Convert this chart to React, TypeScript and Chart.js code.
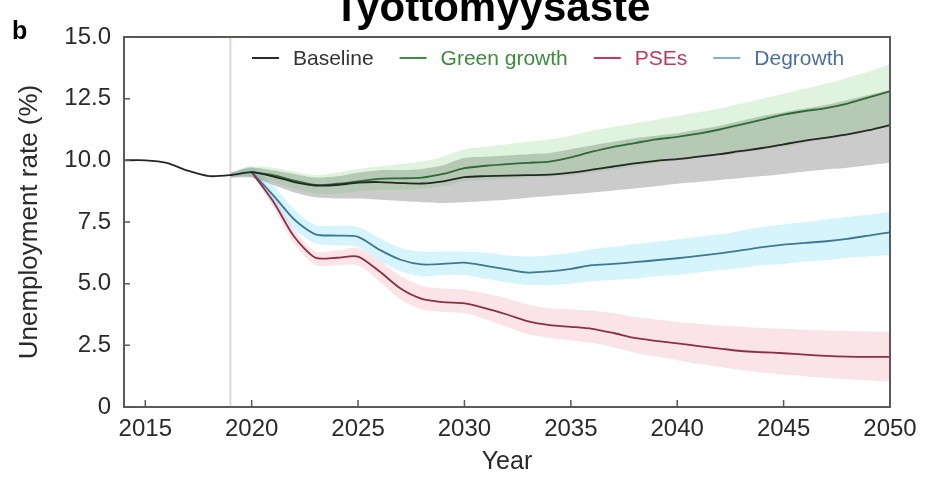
import React, { useEffect, useRef } from "react";
import { Chart, registerables } from "chart.js";

Chart.register(...registerables);

// ---------- data ----------
const years = [
  2014, 2015, 2016, 2017, 2018, 2019, 2020, 2021, 2022, 2023, 2024, 2025, 2026,
  2027, 2028, 2029, 2030, 2031, 2032, 2033, 2034, 2035, 2036, 2037, 2038, 2039,
  2040, 2041, 2042, 2043, 2044, 2045, 2046, 2047, 2048, 2049, 2050,
];
const xTicks = [2015, 2020, 2025, 2030, 2035, 2040, 2045, 2050];
const yTicks = [0, 2.5, 5, 7.5, 10, 12.5, 15];
const markerYear = 2019;

const titleText = "Työttömyysaste";
const panelLabel = "b";
const xTitle = "Year";
const yTitle = "Unemployment rate (%)";
const seriesNames = ["Baseline", "Green growth", "PSEs", "Degrowth"];

const baseline = [
  10.0, 10.0, 9.9, 9.58, 9.36, 9.4, 9.52,
  9.35, 9.12, 8.98, 9.0, 9.1, 9.12, 9.08, 9.06, 9.15, 9.32,
  9.36, 9.38, 9.4, 9.42, 9.5, 9.62, 9.75, 9.88, 9.98, 10.05,
  10.15, 10.25, 10.38, 10.5, 10.65, 10.8, 10.92, 11.05, 11.22, 11.43,
];
const greenGrowth = [
  null, null, null, null, null, null,
  9.52, 9.4, 9.18, 9.0, 9.05, 9.15, 9.25, 9.27, 9.3, 9.45, 9.68,
  9.78, 9.85, 9.9, 9.95, 10.12, 10.35, 10.55, 10.7, 10.85, 10.95,
  11.08, 11.25, 11.45, 11.65, 11.85, 12.0, 12.12, 12.3, 12.55, 12.8,
];
const pses = [
  null, null, null, null, null, null,
  9.52, 8.35, 6.9, 6.05, 6.05, 6.1, 5.5, 4.8, 4.38, 4.25, 4.2,
  4.0, 3.75, 3.47, 3.32, 3.25, 3.17, 3.0, 2.8, 2.68, 2.58,
  2.47, 2.37, 2.27, 2.22, 2.18, 2.12, 2.07, 2.04, 2.03, 2.03,
];
const degrowth = [
  null, null, null, null, null, null,
  9.52, 8.6, 7.6, 7.0, 6.95, 6.9, 6.38, 5.97, 5.78, 5.8, 5.85,
  5.72, 5.58, 5.45, 5.5, 5.6, 5.75, 5.8, 5.87, 5.95, 6.03,
  6.13, 6.23, 6.35, 6.48, 6.58, 6.65, 6.72, 6.82, 6.95, 7.08,
];

// uncertainty ranges (2019 onwards)
const baselineUpper = [
  null, null, null, null, null,
  9.5, 9.7, 9.6, 9.45, 9.3, 9.35, 9.5, 9.6, 9.6, 9.65, 9.8, 10.1,
  10.15, 10.2, 10.25, 10.3, 10.45, 10.6, 10.75, 10.9, 11.0, 11.1,
  11.25, 11.4, 11.6, 11.8, 11.95, 12.1, 12.25, 12.45, 12.65, 12.85,
];
const baselineLower = [
  null, null, null, null, null,
  9.3, 9.3, 9.0, 8.7, 8.5, 8.45, 8.45, 8.4, 8.35, 8.3, 8.27, 8.3,
  8.35, 8.4, 8.48, 8.55, 8.62, 8.7, 8.78, 8.86, 8.95, 9.05,
  9.12, 9.2, 9.28, 9.36, 9.45, 9.55, 9.63, 9.7, 9.8, 9.9,
];
const greenUpper = [
  null, null, null, null, null,
  9.45, 9.75, 9.7, 9.55, 9.4, 9.5, 9.65, 9.75, 9.85, 9.95, 10.15, 10.45,
  10.55, 10.65, 10.75, 10.85, 11.0, 11.2, 11.35, 11.5, 11.65, 11.8,
  11.95, 12.1, 12.3, 12.5, 12.7, 12.9, 13.1, 13.35, 13.6, 13.9,
];
const greenLower = [
  null, null, null, null, null,
  9.35, 9.3, 9.1, 8.85, 8.65, 8.65, 8.75, 8.8, 8.8, 8.85, 8.95, 9.15,
  9.2, 9.25, 9.3, 9.35, 9.4, 9.5, 9.62, 9.75, 9.88, 10.0,
  10.1, 10.2, 10.3, 10.42, 10.55, 10.7, 10.85, 11.0, 11.2, 11.35,
];
const degrowthUpper = [
  null, null, null, null, null,
  9.5, 9.75, 9.0, 8.0, 7.38, 7.35, 7.3, 6.85, 6.45, 6.3, 6.3, 6.3,
  6.25, 6.15, 6.1, 6.15, 6.25, 6.4, 6.5, 6.6, 6.7, 6.8,
  6.9, 7.0, 7.15, 7.3, 7.4, 7.5, 7.6, 7.7, 7.8, 7.92,
];
const degrowthLower = [
  null, null, null, null, null,
  9.3, 9.35, 8.2, 7.2, 6.63, 6.55, 6.5, 5.95, 5.5, 5.3, 5.35, 5.35,
  5.2, 5.05, 4.95, 4.95, 5.0, 5.1, 5.15, 5.2, 5.3, 5.35,
  5.45, 5.55, 5.65, 5.75, 5.8, 5.9, 5.95, 6.05, 6.1, 6.16,
];
const psesUpper = [
  null, null, null, null, null,
  9.5, 9.7, 8.6, 7.2, 6.3, 6.35, 6.45, 5.95, 5.3, 4.9, 4.8, 4.75,
  4.6, 4.4, 4.15, 4.0, 3.95, 3.9, 3.8, 3.65, 3.55, 3.45,
  3.38, 3.3, 3.25, 3.2, 3.17, 3.13, 3.1, 3.08, 3.06, 3.05,
];
const psesLower = [
  null, null, null, null, null,
  9.3, 9.35, 8.1, 6.6, 5.76, 5.75, 5.75, 5.1, 4.35, 3.95, 3.85, 3.8,
  3.55, 3.25, 2.95, 2.8, 2.7, 2.6, 2.42, 2.2, 2.05, 1.9,
  1.75, 1.62, 1.5, 1.4, 1.32, 1.25, 1.18, 1.12, 1.07, 1.03,
];

// ---------- styles ----------
const FONT = "'Liberation Sans', Arial, Helvetica, sans-serif";
const TEXT = "#2a2a2a";
const lineColors = ["#262626", "#2f6a39", "#8c2f47", "#3f7891"];
const legendLineColors = ["#2b2b2b", "#3f8f4a", "#c23b5e", "#7fb0dc"];
const legendTextColors = ["#333333", "#3f8a3f", "#c03a5c", "#4a6fa8"];
const TENSION = 0.25;

export default function App() {
  const ref = useRef<HTMLCanvasElement>(null);

  useEffect(() => {
    const canvas = ref.current;
    if (!canvas) return;

    const pts = (arr: (number | null)[]) =>
      years.map((x, i) => ({ x, y: arr[i] }));

    const lineDs = (label: string, arr: (number | null)[], color: string) => ({
      label,
      data: pts(arr),
      borderColor: color,
      borderWidth: 1.8,
      pointRadius: 0,
      fill: false,
      tension: TENSION,
    });
    const bandLo = (arr: (number | null)[]) => ({
      label: "",
      data: pts(arr),
      borderColor: "rgba(0,0,0,0)",
      borderWidth: 0,
      pointRadius: 0,
      fill: false,
      tension: TENSION,
    });
    const bandHi = (arr: (number | null)[], color: string) => ({
      label: "",
      data: pts(arr),
      borderColor: "rgba(0,0,0,0)",
      backgroundColor: color,
      borderWidth: 0,
      pointRadius: 0,
      fill: "-1",
      tension: TENSION,
    });

    const overlay = {
      id: "overlay",
      beforeDraw(chart: any) {
        const { ctx, chartArea: a, scales } = chart;
        const px = scales.x.getPixelForValue(markerYear);
        ctx.save();
        ctx.strokeStyle = "#e3d9cf";
        ctx.lineWidth = 2;
        ctx.beginPath();
        ctx.moveTo(px, a.top);
        ctx.lineTo(px, a.bottom);
        ctx.stroke();
        ctx.restore();
      },
      afterDatasetsDraw(chart: any) {
        const { ctx, chartArea: a, scales } = chart;
        ctx.save();
        ctx.strokeStyle = "#5a5a5a";
        ctx.lineWidth = 2;
        ctx.strokeRect(a.left, a.top, a.right - a.left, a.bottom - a.top);
        ctx.lineWidth = 1.5;
        ctx.beginPath();
        yTicks.forEach((v) => {
          const py = scales.y.getPixelForValue(v);
          ctx.moveTo(a.left, py);
          ctx.lineTo(a.left + 6, py);
        });
        xTicks.forEach((v) => {
          const px = scales.x.getPixelForValue(v);
          ctx.moveTo(px, a.bottom);
          ctx.lineTo(px, a.bottom - 7);
        });
        ctx.stroke();
        ctx.restore();
      },
      afterDraw(chart: any) {
        const { ctx } = chart;
        ctx.save();
        // title
        ctx.fillStyle = "#000";
        ctx.textBaseline = "alphabetic";
        ctx.textAlign = "center";
        ctx.font = `bold 42px ${FONT}`;
        ctx.fillText(titleText, 492, 21);
        // panel label
        ctx.textAlign = "left";
        ctx.font = `bold 25px ${FONT}`;
        ctx.fillText(panelLabel, 12, 39);
        // legend
        ctx.font = `21px ${FONT}`;
        let x = 252;
        const ly = 58;
        seriesNames.forEach((name, i) => {
          ctx.strokeStyle = legendLineColors[i];
          ctx.lineWidth = 2;
          ctx.beginPath();
          ctx.moveTo(x, ly);
          ctx.lineTo(x + 27, ly);
          ctx.stroke();
          ctx.fillStyle = legendTextColors[i];
          ctx.fillText(name, x + 41, 65);
          x += 41 + ctx.measureText(name).width + 26;
        });
        ctx.restore();
      },
    };

    const chart = new Chart(canvas, {
      type: "line",
      data: {
        datasets: [
          lineDs(seriesNames[0], baseline, lineColors[0]),
          lineDs(seriesNames[1], greenGrowth, lineColors[1]),
          lineDs(seriesNames[2], pses, lineColors[2]),
          lineDs(seriesNames[3], degrowth, lineColors[3]),
          bandLo(greenLower),
          bandHi(greenUpper, "rgba(100,195,90,0.2)"),
          bandLo(baselineLower),
          bandHi(baselineUpper, "rgba(140,140,140,0.45)"),
          bandLo(degrowthLower),
          bandHi(degrowthUpper, "rgba(120,220,245,0.3)"),
          bandLo(psesLower),
          bandHi(psesUpper, "rgba(240,150,168,0.26)"),
        ] as any,
      },
      options: {
        responsive: false,
        animation: false,
        layout: { padding: { left: 0, top: 37, right: 39, bottom: 0 } },
        plugins: {
          legend: { display: false },
          tooltip: { enabled: false },
          title: { display: false },
          filler: { drawTime: "beforeDatasetsDraw" },
        } as any,
        scales: {
          x: {
            type: "linear",
            min: 2014,
            max: 2050,
            afterBuildTicks: (axis: any) => {
              axis.ticks = xTicks.map((v) => ({ value: v }));
            },
            afterFit: (axis: any) => {
              axis.height = 74;
            },
            grid: { display: false, drawTicks: false },
            border: { display: false },
            ticks: {
              padding: 8,
              color: TEXT,
              autoSkip: false,
              maxRotation: 0,
              font: { size: 24, family: FONT },
              callback: (v: any) => String(v),
            },
            title: {
              display: true,
              text: xTitle,
              color: TEXT,
              font: { size: 25, family: FONT },
              padding: { top: 0, bottom: 4 },
            },
          },
          y: {
            type: "linear",
            min: 0,
            max: 15,
            afterBuildTicks: (axis: any) => {
              axis.ticks = yTicks.map((v) => ({ value: v }));
            },
            afterFit: (axis: any) => {
              axis.width = 124;
            },
            grid: { display: false, drawTicks: false },
            border: { display: false },
            ticks: {
              padding: 13,
              color: TEXT,
              font: { size: 24, family: FONT },
              callback: (v: any) => (Number(v) === 0 ? "0" : Number(v).toFixed(1)),
            },
            title: {
              display: true,
              text: yTitle,
              color: TEXT,
              font: { size: 26, family: FONT },
              padding: { top: 14, bottom: 0 },
            },
          },
        },
      } as any,
      plugins: [overlay],
    });

    return () => chart.destroy();
  }, []);

  return (
    <div>
      <canvas
        ref={ref}
        width={929}
        height={481}
        style={{ position: "absolute", left: 0, top: 0, background: "#fff" }}
      />
    </div>
  );
}
